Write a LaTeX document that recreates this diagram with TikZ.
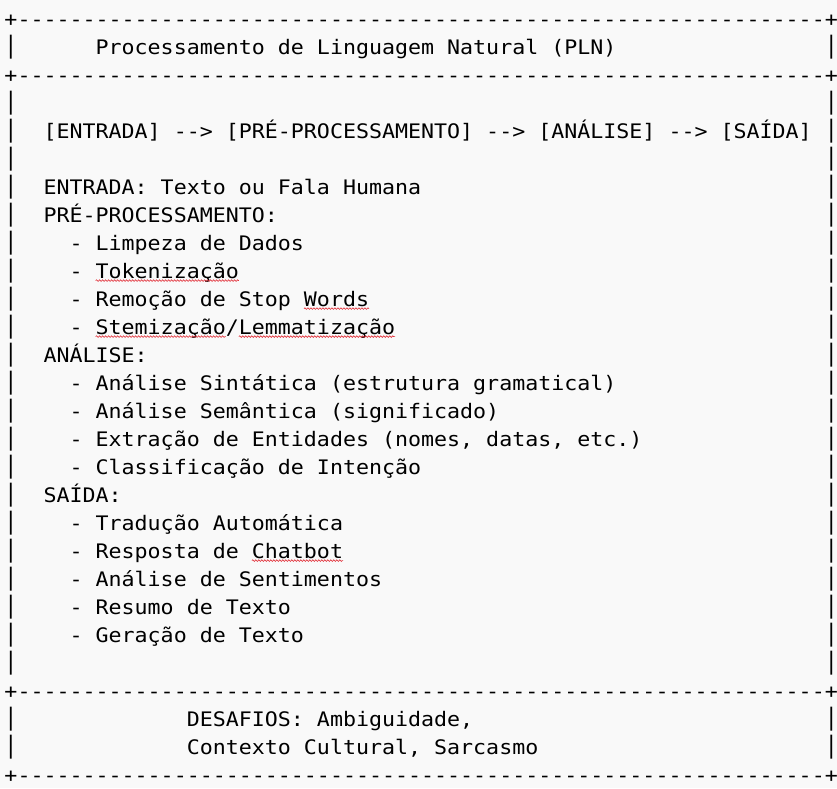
\documentclass[tikz,border=0pt]{standalone}
\usepackage{fontspec}
\usepackage{graphicx}
\newfontfamily\asciimono[FakeStretch=1.0814,Ligatures=TeXOff]{DejaVu Sans Mono}
\usetikzlibrary{decorations.pathmorphing}
\definecolor{bgcol}{HTML}{F9F9F9}
\definecolor{spellred}{HTML}{E0202A}
\tikzset{
  txt/.style={anchor=base west, inner sep=0pt, outer sep=0pt, text=black,
    font=\asciimono\fontsize{20pt}{24pt}\selectfont},
  barch/.style={anchor=center, inner sep=0pt, outer sep=0pt, text=black,
    font=\asciimono\fontsize{20pt}{24pt}\selectfont},
  spell/.style={draw=spellred, line width=0.6pt, decorate,
    decoration={snake, amplitude=0.8pt, segment length=3pt}}
}
% row r, column c, name, text
\newcommand\asciitext[4]{\node[txt] (#3) at ({4.5pt+#2*13.02pt},{-26.3pt-#1*28pt}) {#4};}
\newcommand\asciibar[3]{\node[barch] (#3) at ({4.5pt+(#2+0.5)*13.02pt},{-19pt-#1*28pt}) {\scalebox{1}[1.2]{|}};}
\newcommand\asciiborder[2]{\node[txt] (#2) at (4.5pt,{-26.3pt-#1*28pt}) {+--------------------------------------------------------------+};}
\newcommand\spellmark[3]{\draw[spell] ({4.5pt+#2*13.02pt},{-28.6pt-#1*28pt}) -- ({4.5pt+#3*13.02pt},{-28.6pt-#1*28pt});}
\begin{document}
\begin{tikzpicture}
\fill[bgcol] (0,0) rectangle (837pt,-788pt);
\useasboundingbox (0,0) rectangle (837pt,-788pt);

\asciiborder{0}{b0}
\asciiborder{2}{b2}
\asciiborder{24}{b24}
\asciiborder{27}{b27}

\foreach \r in {1,3,4,5,6,7,8,9,10,11,12,13,14,15,16,17,18,19,20,21,22,23,25,26}{
  \asciibar{\r}{0}{lb\r}
  \asciibar{\r}{63}{rb\r}
}

\asciitext{1}{7}{t1}{Processamento de Linguagem Natural (PLN)}
\asciitext{4}{3}{t4}{[ENTRADA] --> [PRÉ-PROCESSAMENTO] --> [ANÁLISE] --> [SAÍDA]}
\asciitext{6}{3}{t6}{ENTRADA: Texto ou Fala Humana}
\asciitext{7}{3}{t7}{PRÉ-PROCESSAMENTO:}
\asciitext{8}{5}{t8}{- Limpeza de Dados}
\asciitext{9}{5}{t9}{- Tokenização}
\asciitext{10}{5}{t10}{- Remoção de Stop Words}
\asciitext{11}{5}{t11}{- Stemização/Lemmatização}
\asciitext{12}{3}{t12}{ANÁLISE:}
\asciitext{13}{5}{t13}{- Análise Sintática (estrutura gramatical)}
\asciitext{14}{5}{t14}{- Análise Semântica (significado)}
\asciitext{15}{5}{t15}{- Extração de Entidades (nomes, datas, etc.)}
\asciitext{16}{5}{t16}{- Classificação de Intenção}
\asciitext{17}{3}{t17}{SAÍDA:}
\asciitext{18}{5}{t18}{- Tradução Automática}
\asciitext{19}{5}{t19}{- Resposta de Chatbot}
\asciitext{20}{5}{t20}{- Análise de Sentimentos}
\asciitext{21}{5}{t21}{- Resumo de Texto}
\asciitext{22}{5}{t22}{- Geração de Texto}
\asciitext{25}{14}{t25}{DESAFIOS: Ambiguidade,}
\asciitext{26}{14}{t26}{Contexto Cultural, Sarcasmo}

\spellmark{9}{7}{18}
\spellmark{10}{23}{28}
\spellmark{11}{7}{17}
\spellmark{11}{18}{30}
\spellmark{19}{19}{26}
\end{tikzpicture}
\end{document}
